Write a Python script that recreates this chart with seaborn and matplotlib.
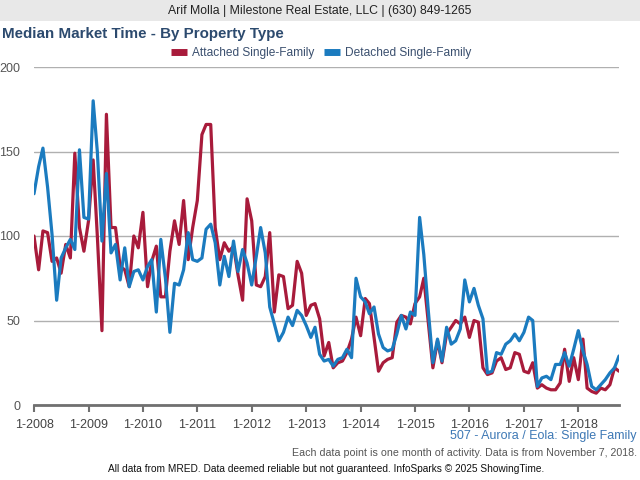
import matplotlib
matplotlib.use("Agg")
import matplotlib.pyplot as plt
from matplotlib import font_manager
from matplotlib.lines import Line2D
from matplotlib.patches import Rectangle
import numpy as np
import pandas as pd
import seaborn as sns

# ---------------- data ----------------
start_month = "2008-01-01"
attached = [100, 80, 103, 102, 85, 87, 78, 95, 87, 149, 105, 91, 109, 145, 100, 44, 172, 105, 105, 82,
            80, 70, 100, 93, 114, 70, 85, 94, 64, 64, 91, 109, 95, 121, 86, 105, 121, 160, 166, 166,
            105, 86, 96, 91, 94, 77, 62, 122, 109, 71, 70, 76, 102, 55, 77, 76, 57, 59, 85, 78,
            53, 59, 60, 51, 29, 37, 22, 25, 26, 31, 39, 52, 41, 63, 60, 40, 20, 25, 27, 28,
            49, 53, 52, 48, 60, 64, 75, 48, 22, 38, 25, 42, 46, 50, 48, 52, 40, 50, 49, 22,
            18, 19, 26, 28, 21, 22, 31, 30, 20, 19, 25, 10, 12, 10, 9, 9, 13, 33, 14, 28,
            15, 39, 10, 8, 7, 10, 9, 12, 22, 20]
detached = [125, 141, 152, 129, 101, 62, 87, 93, 98, 92, 151, 111, 110, 180, 150, 97, 137, 90, 95, 74,
            93, 70, 79, 80, 74, 82, 86, 55, 98, 75, 43, 72, 71, 80, 102, 86, 85, 87, 104, 107,
            96, 71, 88, 76, 97, 79, 92, 84, 71, 88, 105, 90, 58, 48, 38, 43, 52, 47, 56, 53,
            47, 40, 46, 30, 26, 27, 23, 27, 28, 33, 28, 75, 64, 61, 54, 58, 42, 34, 32, 33,
            42, 53, 45, 55, 53, 111, 89, 55, 25, 39, 26, 46, 36, 38, 45, 74, 61, 69, 59, 51,
            19, 20, 31, 30, 36, 38, 42, 38, 43, 52, 50, 11, 16, 17, 15, 24, 24, 31, 23, 33,
            44, 32, 24, 11, 9, 12, 15, 19, 22, 29]
series_names = ["Attached Single-Family", "Detached Single-Family"]
tick_years = list(range(2008, 2019))
tick_labels = [f"1-{y}" for y in tick_years]
y_ticks = [0, 50, 100, 150, 200]

# ---------------- style ----------------
RED = "#a81b3b"
BLUE = "#1b7bbf"
NAVY = "#2c4a6e"

sns.set_theme(style="white")
fams = font_manager.get_font_names()
main_font = "Liberation Sans" if "Liberation Sans" in fams else "DejaVu Sans"
narrow_font = "Liberation Sans Narrow" if "Liberation Sans Narrow" in fams else main_font
plt.rcParams["font.family"] = [main_font, "DejaVu Sans"]

dates = pd.date_range(start_month, periods=len(attached), freq="MS")
df = pd.DataFrame({
    "date": np.concatenate([dates, dates]),
    "value": attached + detached,
    "type": [series_names[0]] * len(attached) + [series_names[1]] * len(detached),
})

W, H = 640, 480
fig = plt.figure(figsize=(6.4, 4.8), dpi=100)
fig.patch.set_facecolor("white")

# banner
fig.patches.append(Rectangle((0, 1 - 21 / H), 1, 21 / H, transform=fig.transFigure,
                             facecolor="#e8e8e8", edgecolor="none", zorder=0))
fig.text(0.5, 1 - 11 / H, "Arif Molla | Milestone Real Estate, LLC | (630) 849-1265",
         ha="center", va="center", fontsize=8.8, color="#222222", family=narrow_font)

fig.text(2 / W, 1 - 34 / H, "Median Market Time - By Property Type", ha="left", va="center",
         fontsize=10.9, fontweight="bold", color=NAVY)

ax = fig.add_axes([34 / W, (H - 405) / H, (619 - 34) / W, (405 - 67) / H])
sns.lineplot(data=df, x="date", y="value", hue="type", palette=[RED, BLUE],
             linewidth=2.3, ax=ax, legend=False)

ax.set_xlim(dates[0], dates[-1])
ax.set_ylim(0, 200)
ax.set_yticks(y_ticks)
ax.set_yticklabels([str(v) for v in y_ticks])
ax.set_xticks(pd.to_datetime([f"{y}-01-01" for y in tick_years]))
ax.set_xticklabels(tick_labels)
ax.set_xlabel("")
ax.set_ylabel("")
ax.yaxis.grid(True, color="#b0b0b0", linewidth=1.0)
ax.set_axisbelow(True)
for s in ["left", "right", "top"]:
    ax.spines[s].set_visible(False)
ax.spines["bottom"].set_color("#707070")
ax.spines["bottom"].set_linewidth(2)
ax.tick_params(axis="y", length=0, pad=10, labelsize=9, labelcolor="#555555")
ax.tick_params(axis="x", length=5, width=1.5, color="#707070", pad=5, labelsize=9,
               labelcolor="#444444", direction="out", bottom=True)

handles = [Line2D([0], [0], color=RED, linewidth=5, solid_capstyle="butt"),
           Line2D([0], [0], color=BLUE, linewidth=5, solid_capstyle="butt")]
fig.legend(handles, series_names, loc="center", bbox_to_anchor=(321 / W, 1 - 53 / H), ncol=2,
           frameon=False, fontsize=8.6, handlelength=1.35, handletextpad=0.4, columnspacing=0.8,
           labelcolor="#3a4f6e")

fig.text(637 / W, 1 - 436 / H, "507 - Aurora / Eola: Single Family", ha="right", va="center",
         fontsize=9, color="#3d78b5")
fig.text(637 / W, 1 - 453 / H,
         "Each data point is one month of activity. Data is from November 7, 2018.",
         ha="right", va="center", fontsize=7.7, color="#555555")
fig.text(326 / W, 1 - 469 / H,
         "All data from MRED. Data deemed reliable but not guaranteed. InfoSparks \u00a9 2025 ShowingTime.",
         ha="center", va="center", fontsize=7.3, color="#111111", family=narrow_font)

fig.savefig("out.png", dpi=100)
